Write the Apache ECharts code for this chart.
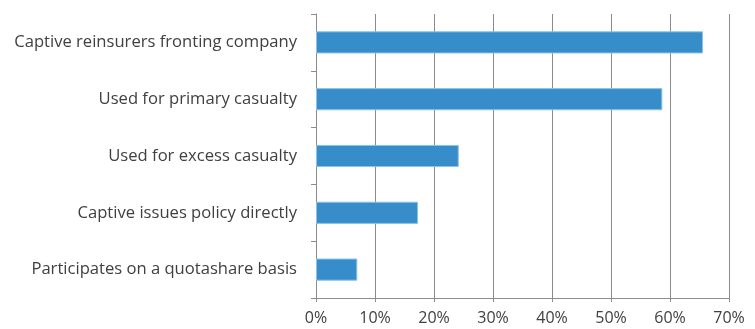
<!DOCTYPE html>
<html>
<head>
<meta charset="utf-8">
<script src="https://cdn.jsdelivr.net/npm/echarts@6/dist/echarts.min.js"></script>
<style>
  html, body { margin: 0; padding: 0; background: #fff; }
  #chart { width: 755px; height: 329px; }
</style>
</head>
<body>
<div id="chart"></div>
<script>
// Captive usage categories, top to bottom
const categories = [
  'Captive reinsurers fronting company',
  'Used for primary casualty',
  'Used for excess casualty',
  'Captive issues policy directly',
  'Participates on a quotashare basis'
];
// Share of respondents (%)
const shares = [65.6, 58.7, 24.2, 17.3, 7.0];
// Value axis ticks (%)
const xTicks = [0, 10, 20, 30, 40, 50, 60, 70];

const chart = echarts.init(document.getElementById('chart'), null, { renderer: 'canvas' });
const font = '"Open Sans", "Noto Sans", sans-serif';

chart.setOption({
  animation: false,
  grid: { left: 316, right: 26, top: 14, bottom: 31, containLabel: false },
  xAxis: {
    type: 'value',
    min: xTicks[0],
    max: xTicks[xTicks.length - 1],
    interval: 10,
    axisLine: { show: true, lineStyle: { color: '#8c8c8c', width: 1 } },
    axisTick: { show: true, length: 4, lineStyle: { color: '#8c8c8c' } },
    splitLine: { show: true, lineStyle: { color: '#8c8c8c', width: 1 } },
    axisLabel: {
      formatter: v => v + '%',
      color: '#404040', fontFamily: font, fontSize: 16, margin: 12
    }
  },
  yAxis: {
    type: 'category',
    data: categories,
    inverse: true,
    axisLine: { show: true, lineStyle: { color: '#8c8c8c', width: 1 } },
    axisTick: { show: true, length: 5, lineStyle: { color: '#8c8c8c' } },
    splitLine: { show: false },
    axisLabel: {
      color: '#404040', fontFamily: font, fontSize: 16.6, margin: 19
    }
  },
  series: [{
    type: 'bar',
    data: shares,
    barCategoryGap: '61%',
    itemStyle: { color: '#378dca', borderColor: '#8cc3e6', borderWidth: 1 }
  }]
});
</script>
</body>
</html>
